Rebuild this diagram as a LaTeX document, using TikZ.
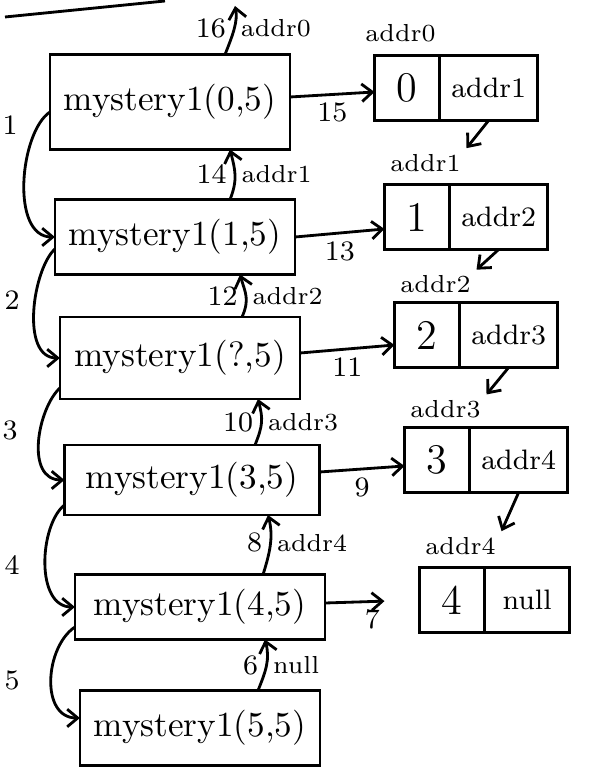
\documentclass[tikz,border=0pt]{standalone}
\usepackage{amsmath}
\usepackage{tikz}
\usetikzlibrary{positioning,arrows.meta}

\tikzset{
  call/.style={draw, thick, outer sep=0pt, minimum width=2.4cm, minimum height=0.75cm, font=\normalsize},
  val/.style={draw, thick, outer sep=0pt, minimum width=0.65cm, minimum height=0.65cm, font=\large},
  ptr/.style={draw, thick, outer sep=0pt, minimum width=0.85cm, minimum height=0.65cm, font=\footnotesize},
  tag/.style={font=\scriptsize, inner sep=1.5pt},
  num/.style={font=\footnotesize, inner sep=2pt},
  link/.style={thick, -{Straight Barb[length=3pt,width=5pt]}},
}

\begin{document}
\begin{tikzpicture}[x=0.01cm, y=-0.01cm]
    \useasboundingbox (0,0) rectangle (602,783);

    % stray stroke at the top
    \draw[thick] (5,17) -- (165,1);

    % the calls
    \node[call, minimum height=0.95cm] (c0) at (170,102) {mystery1(0,5)};
    \node[call] (c1) at (175,237) {mystery1(1,5)};
    \node[call, minimum height=0.82cm] (c2) at (180,358) {mystery1(?,5)};
    \node[call, minimum width=2.55cm, minimum height=0.7cm] (c3) at (192,480) {mystery1(3,5)};
    \node[call, minimum width=2.5cm, minimum height=0.65cm] (c4) at (200,607) {mystery1(4,5)};
    \node[call] (c5) at (200,728) {mystery1(5,5)};

    % the list
    \node[val] (v0) at (407,88) {0};
    \node[ptr, right=0pt of v0] (p0) {addr1};
    \node[val] (v1) at (417,217) {1};
    \node[ptr, right=0pt of v1] (p1) {addr2};
    \node[val] (v2) at (427,335) {2};
    \node[ptr, right=0pt of v2] (p2) {addr3};
    \node[val] (v3) at (437,460) {3};
    \node[ptr, right=0pt of v3] (p3) {addr4};
    \node[val] (v4) at (452,600) {4};
    \node[ptr, right=0pt of v4] (p4) {null};

    \node[tag, anchor=south west] (t0) at ([xshift=-0.15cm,yshift=2pt]v0.north west) {addr0};
    \node[tag, anchor=south west] (t1) at ([yshift=2pt]v1.north west) {addr1};
    \node[tag, anchor=south west] (t2) at ([yshift=1pt]v2.north west) {addr2};
    \node[tag, anchor=south west] (t3) at ([yshift=1pt]v3.north west) {addr3};
    \node[tag, anchor=south west] (t4) at ([yshift=2pt]v4.north west) {addr4};

    \draw[link] (p0.south) -- (t1.north east);
    \draw[link] (p1.south) -- (t2.north east);
    \draw[link] (p2.south) -- (t3.north east);
    \draw[link] (p3.south) -- (t4.north east);

    % calls going down
    \node[num] (s1) at (10,125) {1};
    \node[num] (s2) at (12,300) {2};
    \node[num] (s3) at (10,430) {3};
    \node[num] (s4) at (12,565) {4};
    \node[num] (s5) at (12,680) {5};
    \draw[link] ([yshift=-0.1cm]c0.west) .. controls +(-30,20) and +(-45,0) .. (c1.west);
    \draw[link] ([yshift=-0.12cm]c1.west) .. controls +(-22,20) and +(-40,0) .. (c2.west);
    \draw[link] ([yshift=-0.3cm]c2.west) .. controls +(-22,20) and +(-40,0) .. (c3.west);
    \draw[link] ([yshift=-0.25cm]c3.west) .. controls +(-25,20) and +(-40,0) .. (c4.west);
    \draw[link] ([yshift=-0.2cm]c4.west) .. controls +(-30,20) and +(-40,0) .. ([yshift=0.1cm]c5.west);

    % pointers into the list
    \draw[link] ([yshift=0.05cm]c0.east) -- node[num, below] (n15) {15} ([yshift=-0.04cm]v0.west);
    \draw[link] (c1.east) -- node[num, below] (n13) {13} ([yshift=-0.12cm]v1.west);
    \draw[link] ([yshift=0.05cm]c2.east) -- node[num, below] (n11) {11} ([yshift=-0.1cm]v2.west);
    \draw[link] ([yshift=0.08cm]c3.east) -- node[num, below] (n9) {9} ([yshift=-0.06cm]v3.west);
    \draw[link, shorten >=0.35cm] ([yshift=0.04cm]c4.east) -- node[num, below] (n7) {7} (v4.west);

    % returns going up
    \coordinate (top0) at (235,6);
    \draw[link] ([xshift=0.55cm]c0.north) .. controls +(8,-20) and +(3,15) .. node[num, left] (n16) {16} node[tag, right] (r0) {addr0} (top0);
    \draw[link] ([xshift=0.55cm]c1.north) .. controls +(8,-20) and +(5,20) .. node[num, left] (n14) {14} node[tag, right] (r1) {addr1} ([xshift=0.6cm]c0.south);
    \draw[link] ([xshift=0.62cm]c2.north) .. controls +(8,-18) and +(5,18) .. node[num, left] (n12) {12} node[tag, right] (r2) {addr2} ([xshift=0.65cm]c1.south);
    \draw[link] ([xshift=0.63cm]c3.north) .. controls +(8,-20) and +(5,20) .. node[num, left] (n10) {10} node[tag, right] (r3) {addr3} ([xshift=0.78cm]c2.south);
    \draw[link] ([xshift=0.63cm]c4.north) .. controls +(8,-25) and +(5,20) .. node[num, left] (n8) {8} node[tag, right] (r4) {addr4} ([xshift=0.76cm]c3.south);
    \draw[link] ([xshift=0.58cm]c5.north) .. controls +(8,-20) and +(5,20) .. node[num, left] (n6) {6} node[tag, right] (r5) {null} ([xshift=0.65cm]c4.south);
\end{tikzpicture}
\end{document}
